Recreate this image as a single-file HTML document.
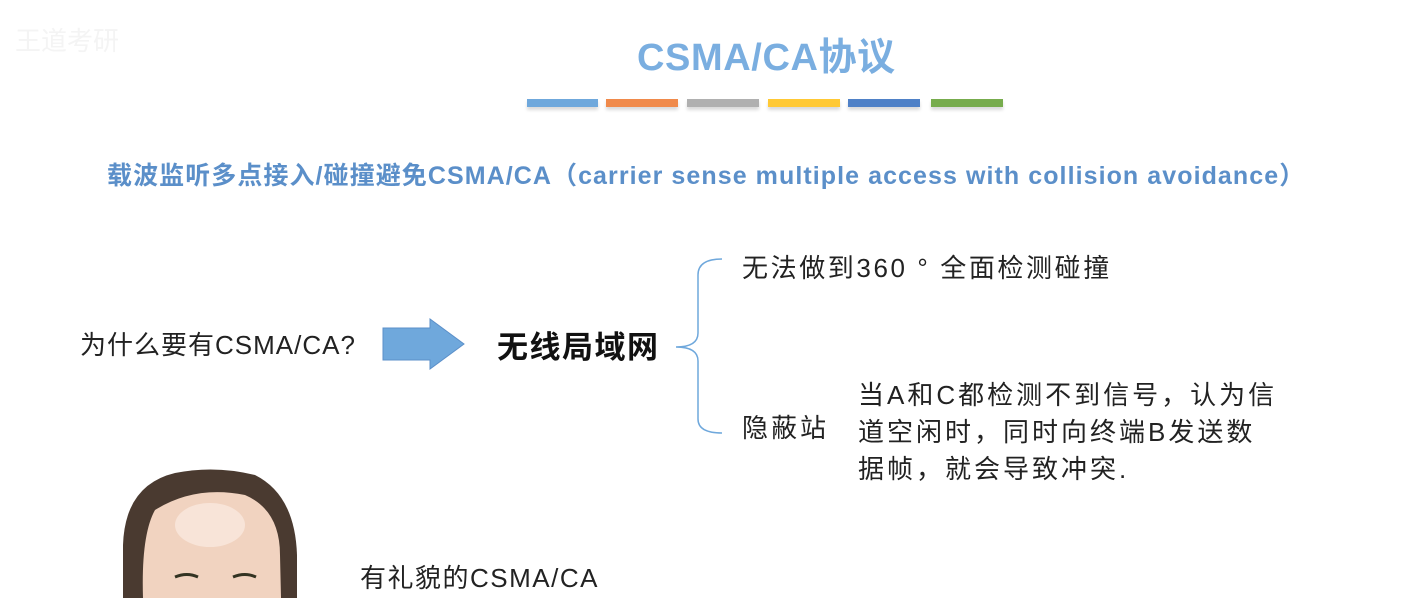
<!DOCTYPE html>
<html><head><meta charset="utf-8"><style>
body{margin:0;width:1423px;height:598px;background:#fff;position:relative;overflow:hidden;font-family:"Liberation Sans","Noto Sans CJK SC",sans-serif;}
.t{position:absolute;white-space:nowrap;line-height:1;}
.bar{position:absolute;top:99px;height:8px;box-shadow:0 3px 3px rgba(0,0,0,0.15);}
</style></head><body>
<div class="t" style="left:637px;top:39px;font-size:38px;font-weight:bold;color:#7aaee0;letter-spacing:0.6px;">CSMA/CA协议</div>
<div class="bar" style="left:527px;width:71px;background:#6fa8dc"></div>
<div class="bar" style="left:606px;width:72px;background:#f08a4b"></div>
<div class="bar" style="left:687px;width:72px;background:#b0b0b0"></div>
<div class="bar" style="left:768px;width:72px;background:#ffc935"></div>
<div class="bar" style="left:848px;width:72px;background:#4f81c7"></div>
<div class="bar" style="left:931px;width:72px;background:#77ac4d"></div>
<div class="t" style="left:107px;top:164px;font-size:25px;font-weight:bold;color:#5b8fc9;letter-spacing:1.07px;">载波监听多点接入/碰撞避免CSMA/CA（carrier sense multiple access with collision avoidance）</div>
<div class="t" style="left:80px;top:332px;font-size:26px;color:#222;letter-spacing:1px;">为什么要有CSMA/CA?</div>
<svg style="position:absolute;left:380px;top:316px" width="90" height="56"><polygon points="3,12 50,12 50,3 84,28 50,53 50,44 3,44" fill="#6fa8dc" stroke="#5b8fc9" stroke-width="1"/></svg>
<div class="t" style="left:497px;top:332px;font-size:31px;font-weight:bold;color:#111;letter-spacing:1.5px;">无线局域网</div>
<svg style="position:absolute;left:670px;top:255px" width="60" height="185"><path d="M52,4 Q28,4 28,20 L28,78 Q28,92 6,92 Q28,92 28,106 L28,164 Q28,178 52,178" fill="none" stroke="#6fa8dc" stroke-width="1.5"/></svg>
<div class="t" style="left:742px;top:255px;font-size:26px;color:#222;letter-spacing:2.6px;">无法做到360 ° 全面检测碰撞</div>
<div class="t" style="left:742px;top:415px;font-size:26px;color:#222;letter-spacing:3px;">隐蔽站</div>
<div class="t" style="left:858px;top:377px;font-size:26px;color:#222;line-height:37px;letter-spacing:3px;">当A和C都检测不到信号，认为信<br>道空闲时，同时向终端B发送数<br>据帧，就会导致冲突.</div>
<div class="t" style="left:360px;top:565px;font-size:26px;color:#222;letter-spacing:1.5px;">有礼貌的CSMA/CA</div>
<svg style="position:absolute;left:115px;top:465px" width="190" height="133">
<path d="M8,133 L8,80 Q10,20 60,8 Q100,0 140,10 Q180,30 182,90 L182,133 Z" fill="#4a3a30"/>
<path d="M28,133 Q26,70 40,45 Q80,20 130,30 Q165,45 165,90 L166,133 Z" fill="#f1d3c0"/>
<ellipse cx="95" cy="60" rx="35" ry="22" fill="#f8e4d8"/>
<path d="M60,112 Q72,107 83,112" stroke="#332" stroke-width="3" fill="none"/>
<path d="M118,112 Q130,107 141,112" stroke="#332" stroke-width="3" fill="none"/>
</svg>
<div class="t" style="left:15px;top:28px;font-size:26px;color:#f4f4f4;">王道考研</div>
</body></html>
